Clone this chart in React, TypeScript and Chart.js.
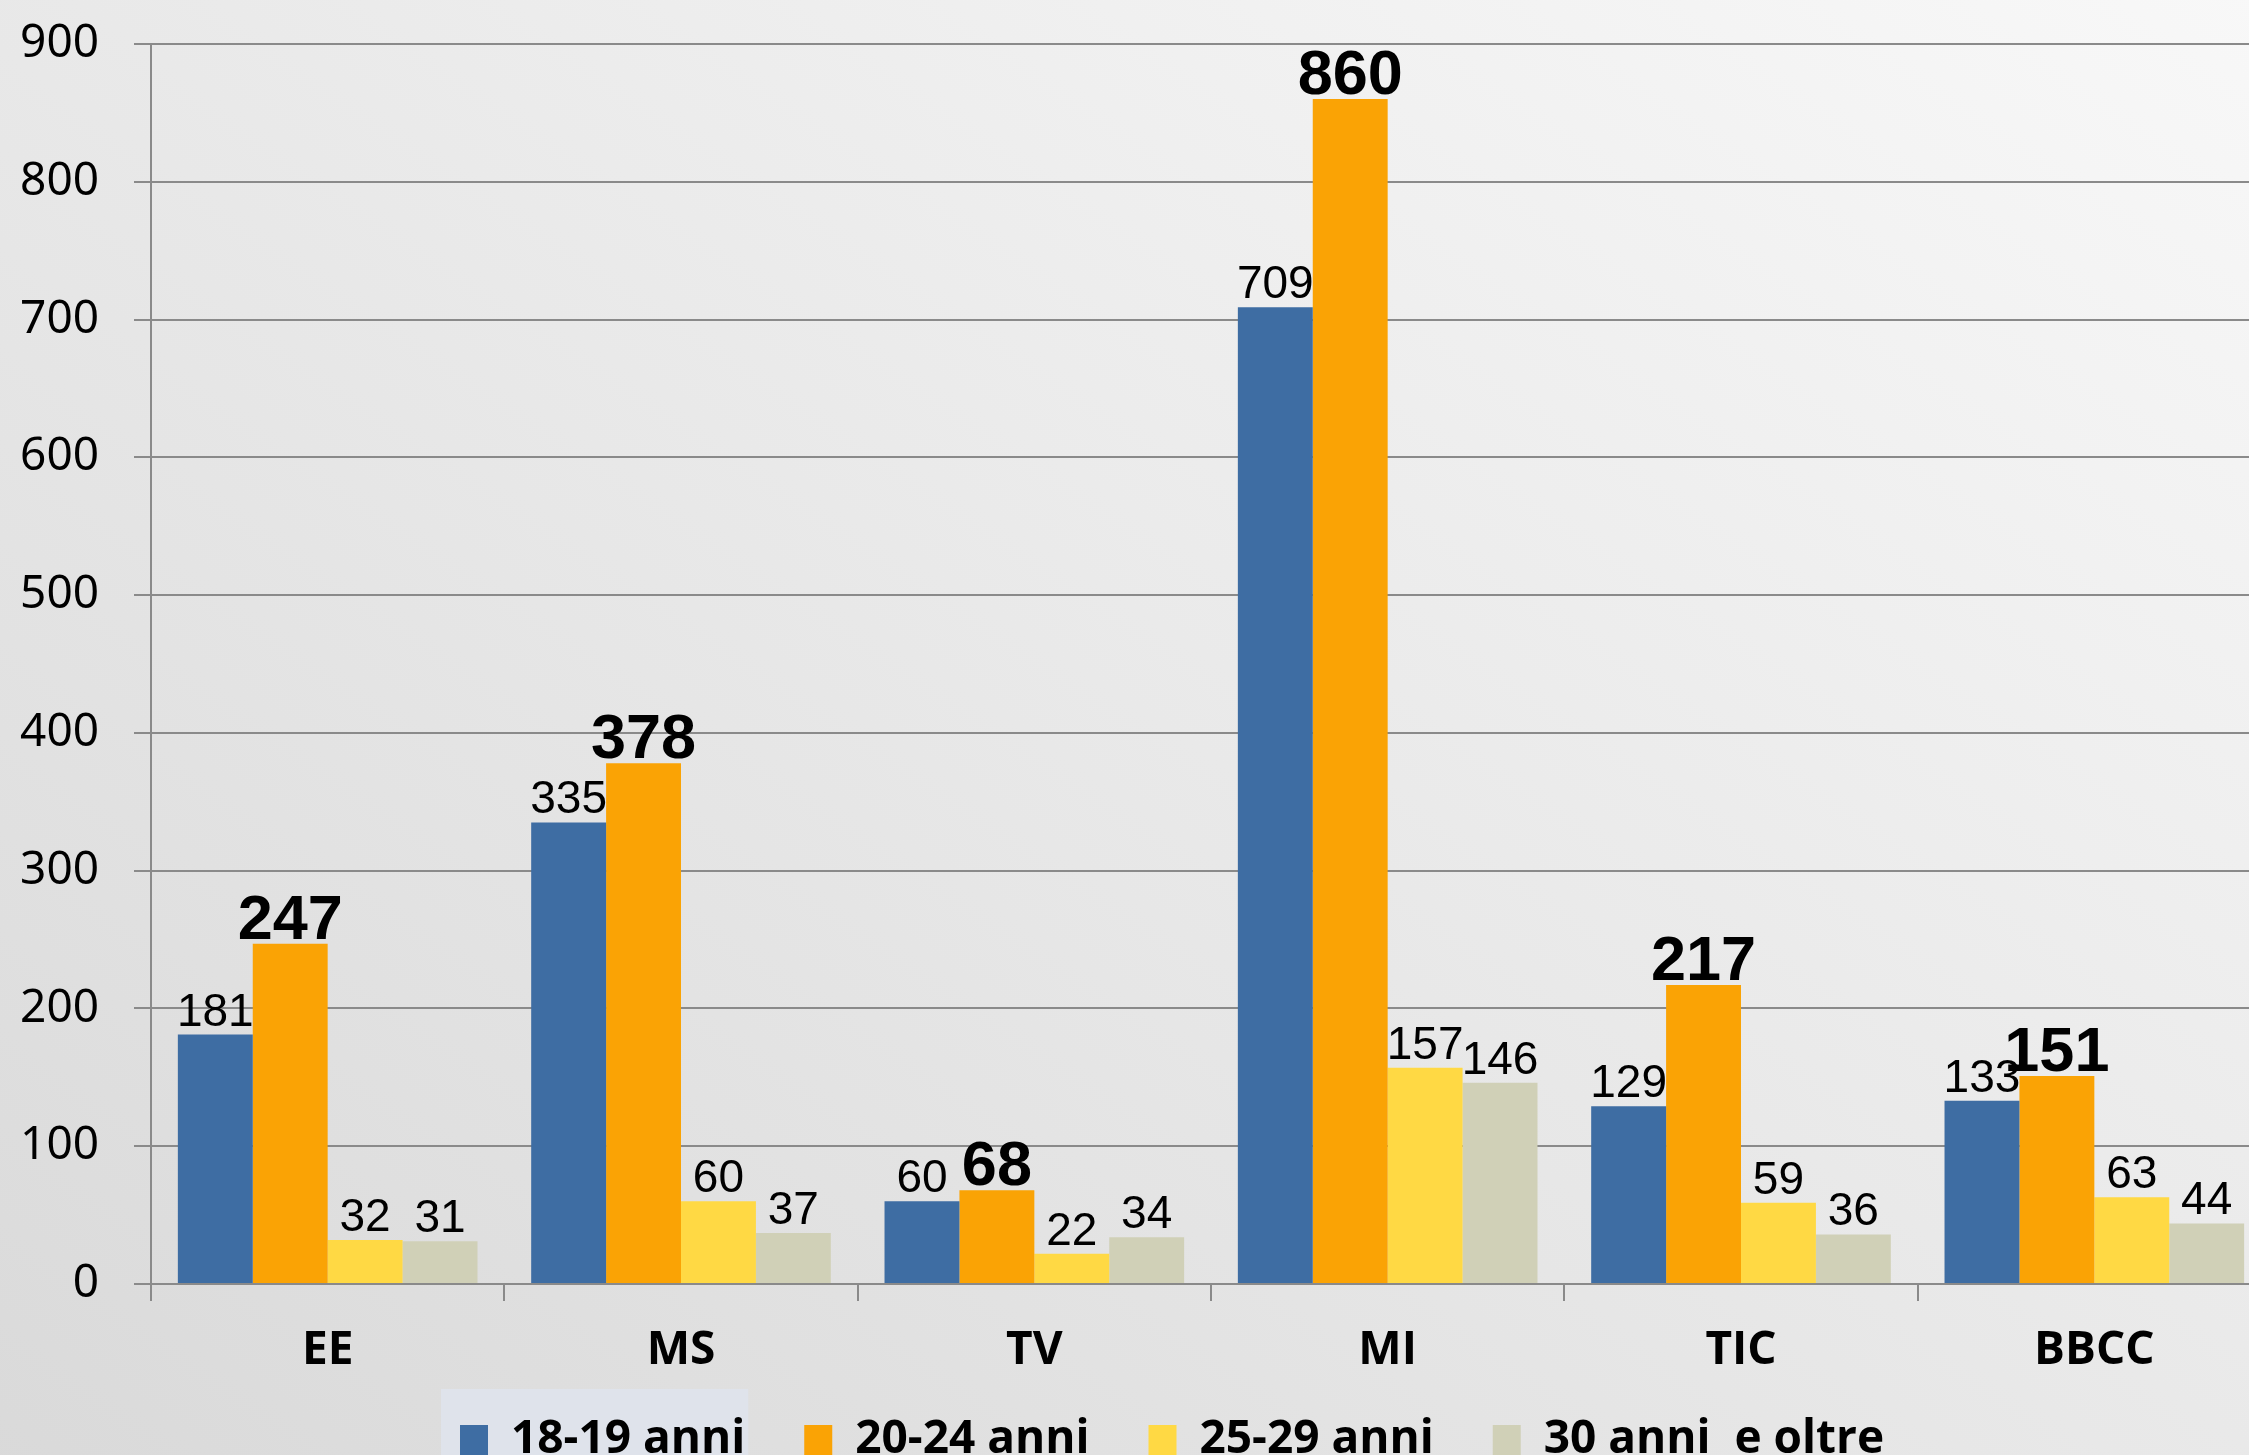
import React, { useEffect, useRef } from 'react';
import { Chart, registerables } from 'chart.js';

Chart.register(...registerables);

const categories = ['EE', 'MS', 'TV', 'MI', 'TIC', 'BBCC'];
const seriesNames = ['18-19 anni', '20-24 anni', '25-29 anni', '30 anni  e oltre'];
const age18_19 = [181, 335, 60, 709, 129, 133];
const age20_24 = [247, 378, 68, 860, 217, 151];
const age25_29 = [32, 60, 22, 157, 59, 63];
const age30plus = [31, 37, 34, 146, 36, 44];
const seriesColors = ['#3E6DA3', '#FAA305', '#FFD944', '#D0D0B7'];
const boldSeries = [false, true, false, false];
const yMin = 0;
const yMax = 900;
const yStep = 100;

const CANVAS_W = 2271;
const CANVAS_H = 1509;
const GRID = '#8a8a8a';

const bgPlugin = {
  id: 'bgPlugin',
  beforeDraw(chart: any) {
    const { ctx, width: W, height: H } = chart;
    ctx.save();
    const cx = W / 2, cy = H / 2;
    const vx = H, vy = -W;
    const t = (W * H) / (H * H + W * W);
    const g = ctx.createLinearGradient(cx - t * vx, cy - t * vy, cx + t * vx, cy + t * vy);
    g.addColorStop(0, '#D9D9D9');
    g.addColorStop(1, '#F8F8F8');
    ctx.fillStyle = g;
    ctx.fillRect(0, 0, W, H);
    const lg = chart.legend;
    if (lg && lg.legendHitBoxes && lg.legendHitBoxes[0]) {
      const hb = lg.legendHitBoxes[0];
      const cyItem = hb.top + hb.height / 2;
      ctx.fillStyle = '#DFE3EB';
      ctx.fillRect(hb.left - 19, cyItem - 51, hb.width + 22, H);
    }
    ctx.restore();
  },
  afterLayout(chart: any) {
    const lg = chart.legend;
    if (lg) {
      const pad = lg.options.labels.padding;
      lg.left = 460 - pad;
      lg.top = chart.chartArea.bottom + 70 + (63 - pad);
    }
  },
};

const labelPlugin = {
  id: 'labelPlugin',
  afterDatasetsDraw(chart: any) {
    const { ctx } = chart;
    ctx.save();
    ctx.fillStyle = '#000';
    ctx.textAlign = 'center';
    ctx.textBaseline = 'alphabetic';
    chart.data.datasets.forEach((ds: any, i: number) => {
      const meta = chart.getDatasetMeta(i);
      const bold = boldSeries[i];
      ctx.font = bold ? 'bold 63px "Liberation Sans", Arial, sans-serif' : '46px "Liberation Sans", Arial, sans-serif';
      meta.data.forEach((bar: any, j: number) => {
        ctx.fillText(String(ds.data[j]), bar.x, bar.y - (bold ? 5 : 9));
      });
    });
    ctx.restore();
  },
};

export default function App() {
  const ref = useRef<HTMLCanvasElement>(null);
  useEffect(() => {
    if (!ref.current) return;
    const seriesData = [age18_19, age20_24, age25_29, age30plus];
    const chart = new Chart(ref.current, {
      type: 'bar',
      data: {
        labels: categories,
        datasets: seriesNames.map((name, i) => ({
          label: name,
          data: seriesData[i],
          backgroundColor: seriesColors[i],
          borderWidth: 0,
          categoryPercentage: 0.848,
          barPercentage: 1,
        })),
      },
      options: {
        responsive: false,
        animation: false,
        devicePixelRatio: 1,
        layout: { padding: { top: 44, left: 0, right: 0, bottom: 0 } },
        plugins: {
          tooltip: { enabled: false },
          legend: {
            position: 'bottom',
            align: 'start',
            labels: {
              boxWidth: 28,
              boxHeight: 30,
              padding: 59,
              color: '#000',
              font: { family: '"Open Sans", sans-serif', weight: 'bold', size: 46 },
            },
          },
        },
        scales: {
          x: {
            grid: {
              offset: true,
              drawOnChartArea: false,
              drawTicks: true,
              tickLength: 17,
              color: GRID,
              lineWidth: 2,
            },
            border: { display: true, color: GRID, width: 2 },
            ticks: {
              color: '#000',
              padding: 22,
              font: { family: '"Open Sans", sans-serif', weight: 'bold', size: 46 },
            },
            afterFit: (s: any) => {
              s.height = 110;
              s.paddingLeft = 0;
              s.paddingRight = 0;
            },
          },
          y: {
            min: yMin,
            max: yMax,
            ticks: {
              stepSize: yStep,
              color: '#000',
              padding: 35,
              font: { family: '"Noto Sans", sans-serif', size: 46 },
            },
            grid: { color: GRID, lineWidth: 2, tickLength: 17 },
            border: { display: true, color: GRID, width: 2 },
            afterFit: (s: any) => {
              s.width = 151;
              s.paddingTop = 0;
              s.paddingBottom = 0;
            },
          },
        },
      },
      plugins: [bgPlugin, labelPlugin],
    } as any);
    return () => chart.destroy();
  }, []);
  return (
    <div style={{ position: 'fixed', left: 0, top: 0, width: 2249, height: 1455, overflow: 'hidden' }}>
      <canvas ref={ref} width={CANVAS_W} height={CANVAS_H} style={{ display: 'block', width: CANVAS_W, height: CANVAS_H }} />
    </div>
  );
}
